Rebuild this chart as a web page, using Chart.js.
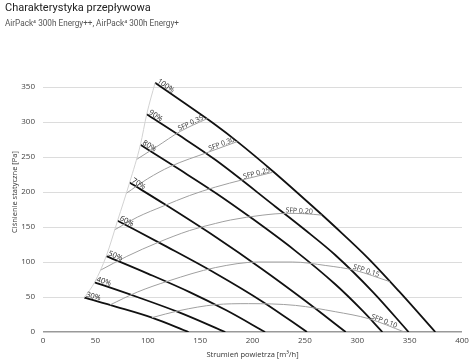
<!DOCTYPE html>
<html lang="pl">
<head>
<meta charset="utf-8">
<title>Charakterystyka przepływowa</title>
<script src="https://cdn.jsdelivr.net/npm/chart.js@4.4.1/dist/chart.umd.min.js"></script>
<style>
    html, body { margin: 0; padding: 0; background: #fff; }
    #wrap { position: relative; width: 474px; height: 361px; overflow: hidden; }
    #chart { position: absolute; left: 0; top: 0; }
    .title { position: absolute; left: 5px; top: 1px; font: 11px Roboto, sans-serif; color: #222; white-space: nowrap; }
    .subtitle { position: absolute; left: 5px; top: 17.5px; font: 8.2px Roboto, sans-serif; color: #555; white-space: nowrap; }
</style>
</head>
<body>
<div id="wrap">
    <canvas id="chart" width="474" height="361"></canvas>
    <div class="title">Charakterystyka przepływowa</div>
    <div class="subtitle">AirPack⁴ 300h Energy++, AirPack⁴ 300h Energy+</div>
</div>
<script>
// --- DANE: [przepływ m³/h, ciśnienie Pa] ---
const xTicks = [0, 50, 100, 150, 200, 250, 300, 350, 400];
const yTicks = [0, 50, 100, 150, 200, 250, 300, 350];

const speedLabels = ['100%', '90%', '80%', '70%', '60%', '50%', '40%', '30%'];
const fan100 = [[107, 356], [135, 327], [164.5, 296], [185.5, 272], [220, 229], [257, 180], [279, 150], [310, 106], [340, 58], [374.5, 0]];
const fan90 = [[99, 311], [130, 281], [164.5, 246], [222, 179], [250, 146], [279, 110], [315, 57], [349, 0]];
const fan80 = [[93, 267.5], [130, 232.4], [164.5, 199], [200, 161.7], [240, 117], [279, 68.2], [305, 30.5], [324, 0]];
const fan70 = [[82.7, 213.5], [116.7, 182], [164.5, 136], [210, 89], [250, 45], [289, 0]];
const fan60 = [[71.2, 159], [118, 122], [164.5, 84], [210, 43], [252, 0]];
const fan50 = [[60.4, 108.5], [100, 83.5], [140, 57], [175, 31], [212, 0]];
const fan40 = [[49.3, 71], [90, 50], [130, 28], [174, 0]];
const fan30 = [[39.4, 49], [70, 36], [104, 20.5], [139, 0]];

const sfpLabels = ['SFP 0.35', 'SFP 0.30', 'SFP 0.25', 'SFP 0.20', 'SFP 0.15', 'SFP 0.10'];
const sfp35 = [[88.8, 246], [108.8, 265], [131, 286.5], [157, 305]];
const sfp30 = [[79.4, 198], [100, 219], [121.5, 236.4], [158, 257], [185.5, 272]];
const sfp25 = [[68.4, 146], [90, 164], [115, 180], [140, 195], [164.5, 207], [192, 218], [219, 228]];
const sfp20 = [[54.5, 88], [80, 108], [110, 128], [140, 145], [164.5, 155], [179, 160], [210, 167], [233, 169.5], [250, 169], [266, 167]];
const sfp15 = [[64, 38.7], [90, 57], [120, 73], [164.5, 92], [206, 100], [238, 100], [270, 95], [298, 88], [331, 72]];
const sfp10 = [[104, 20.5], [130, 30.5], [164.5, 39], [196, 40.5], [241, 38], [279, 29], [311, 19], [345, 0]];

const fans = [fan100, fan90, fan80, fan70, fan60, fan50, fan40, fan30];
const sfps = [sfp35, sfp30, sfp25, sfp20, sfp15, sfp10];
// granica pracy - przez początki krzywych wentylatora
const envelope = fans.map(f => f[0]);

const toPoints = arr => arr.map(p => ({ x: p[0], y: p[1] }));

const lineSet = (arr, color, width) => ({
    data: toPoints(arr),
    showLine: true,
    borderColor: color,
    borderWidth: width,
    pointRadius: 0,
    cubicInterpolationMode: 'monotone',
    fill: false
});

const datasets = [
    lineSet(envelope, '#d2d2d2', 1),
    ...sfps.map(s => lineSet(s, '#a0a0a0', 1)),
    ...fans.map(f => lineSet(f, '#111', 1.8))
];

// napisy przy krzywych
const curveLabels = {
    id: 'curveLabels',
    afterDatasetsDraw(chart) {
        const ctx = chart.ctx;
        const xs = chart.scales.x, ys = chart.scales.y;
        const px = p => ({ x: xs.getPixelForValue(p[0]), y: ys.getPixelForValue(p[1]) });
        ctx.save();
        ctx.textBaseline = 'alphabetic';

        // procenty
        ctx.fillStyle = '#222';
        ctx.font = '7.5px "Open Sans", sans-serif';
        fans.forEach((f, i) => {
            const a = px(f[0]), b = px(f[1]);
            ctx.save();
            ctx.translate(a.x, a.y);
            ctx.rotate(Math.atan2(b.y - a.y, b.x - a.x));
            ctx.textAlign = 'left';
            ctx.fillText(speedLabels[i], 1, -1.5);
            ctx.restore();
        });

        // SFP
        const gaps = [3.5, 2, 2, 9, 12, 9];
        ctx.fillStyle = '#333';
        ctx.font = '7px "Open Sans", sans-serif';
        sfps.forEach((s, i) => {
            const e = px(s[s.length - 1]);
            let k = s.length - 2, b = px(s[k]);
            while (k > 0 && Math.hypot(e.x - b.x, e.y - b.y) < 30) { k--; b = px(s[k]); }
            ctx.save();
            ctx.translate(e.x, e.y);
            ctx.rotate(Math.atan2(e.y - b.y, e.x - b.x));
            ctx.textAlign = 'right';
            ctx.fillText(sfpLabels[i], -gaps[i], -1);
            ctx.restore();
        });
        ctx.restore();
    }
};

const tickFont = { family: 'Open Sans', size: 8 };
const titleFont = { family: 'Open Sans', size: 7.5 };

new Chart(document.getElementById('chart'), {
    type: 'scatter',
    data: { datasets },
    plugins: [curveLabels],
    options: {
        responsive: false,
        animation: false,
        devicePixelRatio: 1,
        layout: { padding: { top: 52, right: 12, bottom: 0, left: 0 } },
        plugins: { legend: { display: false }, tooltip: { enabled: false } },
        scales: {
            x: {
                type: 'linear', min: 0, max: 400,
                afterBuildTicks: s => { s.ticks = xTicks.map(v => ({ value: v })); },
                afterFit: s => { s.height = 29; },
                ticks: { color: '#444', font: tickFont, padding: 4 },
                grid: { display: false, drawTicks: false },
                border: { display: false },
                title: { display: true, text: 'Strumień powietrza [m³/h]', color: '#333', font: titleFont, padding: { top: 0, bottom: 2 } }
            },
            y: {
                type: 'linear', min: 0, max: 400,
                afterBuildTicks: s => { s.ticks = yTicks.map(v => ({ value: v })); },
                afterFit: s => { s.width = 43; },
                ticks: { color: '#444', font: tickFont, padding: 8 },
                grid: {
                    drawTicks: false,
                    color: c => c.tick && c.tick.value === 0 ? '#999' : '#dcdcdc',
                    lineWidth: c => c.tick && c.tick.value === 0 ? 1.5 : 1
                },
                border: { display: false },
                title: { display: true, text: 'Ciśnienie statyczne [Pa]', color: '#333', font: titleFont, padding: { top: 10, bottom: 0 } }
            }
        }
    }
});
</script>
</body>
</html>
